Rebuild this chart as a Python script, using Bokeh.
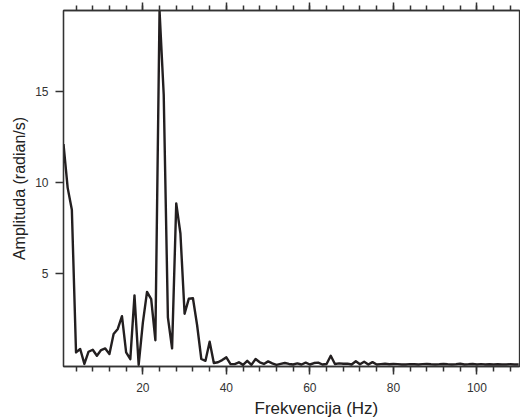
from bokeh.plotting import figure
from bokeh.models import Range1d, LinearAxis, FixedTicker, SingleIntervalTicker, Title, ColumnDataSource
from bokeh.embed import file_html
from bokeh.resources import INLINE

freq = list(range(1, 111))
amp = [
    12.1, 9.7, 8.5, 0.68, 0.87, 0.05, 0.72, 0.83, 0.5, 0.81,
    0.9, 0.59, 1.69, 1.97, 2.67, 0.68, 0.31, 3.81, 0.0, 2.3,
    4.0, 3.6, 1.35, 19.4, 14.8, 2.6, 0.9, 8.85, 7.2, 2.8,
    3.62, 3.65, 2.17, 0.32, 0.22, 1.27, 0.1, 0.14, 0.26, 0.41,
    0.04, 0.04, 0.14, 0.0, 0.22, 0.0, 0.32, 0.14, 0.05, 0.19,
    0.08, 0.0, 0.05, 0.1, 0.05, 0.02, 0.08, 0.02, 0.12, 0.02,
    0.1, 0.12, 0.02, 0.05, 0.5, 0.05, 0.08, 0.06, 0.07, 0.02,
    0.2, 0.03, 0.17, 0.02, 0.15, 0.02, 0.04, 0.06, 0.03, 0.05,
    0.04, 0.02, 0.02, 0.04, 0.03, 0.02, 0.04, 0.05, 0.03, 0.02,
    0.03, 0.05, 0.03, 0.02, 0.03, 0.06, 0.02, 0.03, 0.05, 0.02,
    0.04, 0.02, 0.03, 0.02, 0.03, 0.02, 0.02, 0.03, 0.02, 0.02,
]
x_major_step = 20
x_minor_per_major = 5
y_major = [5, 10, 15]
x_title = "Frekvencija (Hz)"
y_title = "Amplituda (radian/s)"

FONT = "Liberation Sans"
AXC = "#333333"

p = figure(width=520, height=419, output_backend="svg", toolbar_location=None,
           x_range=Range1d(1, 110.2), y_range=Range1d(-0.09, 19.42),
           min_border_left=63, min_border_right=1, min_border_top=10, min_border_bottom=0)
p.xgrid.grid_line_color = None
p.ygrid.grid_line_color = None
p.outline_line_color = AXC
p.outline_line_width = 1.3

src = ColumnDataSource(dict(f=freq, a=amp))
p.line("f", "a", source=src, line_color="#231f20", line_width=2.4, line_join="round")

def style_axis(ax):
    ax.axis_line_color = AXC
    ax.axis_line_width = 1.3
    ax.major_tick_line_color = AXC
    ax.minor_tick_line_color = AXC
    ax.major_tick_line_width = 1.5
    ax.minor_tick_line_width = 1.5
    ax.major_tick_in = 0
    ax.minor_tick_in = 0
    ax.major_tick_out = 8
    ax.minor_tick_out = 5
    ax.major_label_text_font = FONT
    ax.major_label_text_font_size = "12px"
    ax.major_label_text_color = "#333333"
    ax.axis_label_text_font = FONT
    ax.axis_label_text_font_size = "16px"
    ax.axis_label_text_font_style = "normal"
    ax.axis_label_text_color = "#222222"

xa = p.xaxis[0]
xa.ticker = SingleIntervalTicker(interval=x_major_step, num_minor_ticks=x_minor_per_major)
style_axis(xa)
xa.major_label_standoff = 8

ya = p.yaxis[0]
ya.ticker = FixedTicker(ticks=y_major, minor_ticks=[])
style_axis(ya)
ya.minor_tick_out = 0
ya.major_label_standoff = 7
ya.axis_label = y_title
ya.axis_label_standoff = 4

top = LinearAxis(ticker=SingleIntervalTicker(interval=x_major_step, num_minor_ticks=x_minor_per_major))
style_axis(top)
top.major_label_text_font_size = "1px"
top.major_label_standoff = 0
top.major_label_text_alpha = 0
p.add_layout(top, "above")

xt = Title(text=x_title, align="left", offset=191,
           text_font=FONT, text_font_size="17px", text_font_style="normal",
           text_color="#222222", standoff=4)
p.add_layout(xt, "below")

open("out.html", "w").write(file_html(p, INLINE))
